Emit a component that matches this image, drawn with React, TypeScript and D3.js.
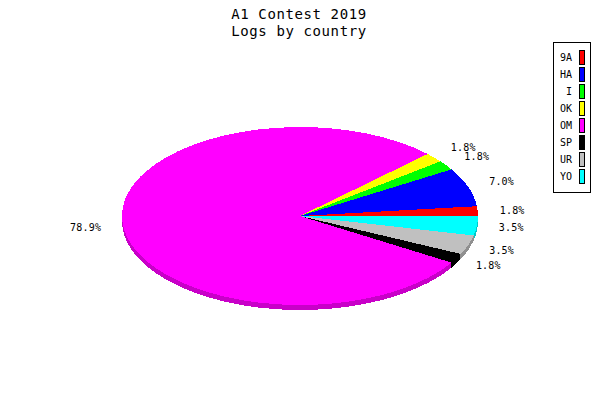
import React from "react";
import * as d3 from "d3";

const categories = ["9A", "HA", "I", "OK", "OM", "SP", "UR", "YO"];
const logs = [1, 4, 1, 1, 45, 1, 2, 2];
const colors = ["#ff0000", "#0000ff", "#00ff00", "#ffff00", "#ff00ff", "#000000", "#c0c0c0", "#00ffff"];
const sideColors = ["#c80000", "#0000c8", "#00c800", "#c8c800", "#c800c8", "#000000", "#909090", "#00c8c8"];
const titleLines = ["A1 Contest 2019", "Logs by country"];

const W = 600, H = 400;
const cx = 300, cy = 216, rx = 178, ry = 89, depth = 5;
const labelRx = 200, labelRy = 105;
const mono = "'DejaVu Sans Mono', 'Liberation Mono', monospace";

export default function App() {
  const total = d3.sum(logs);
  const data = categories.map((c, i) => ({ name: c, value: logs[i], color: colors[i], side: sideColors[i] }));
  // counterclockwise from east (d3 angle PI/2 going negative)
  const pie = d3.pie<any>().sort(null).value((d: any) => d.value).startAngle(Math.PI / 2).endAngle(Math.PI / 2 - 2 * Math.PI);
  const arcs = pie(data);
  const arc = d3.arc<any>().innerRadius(0).outerRadius(1);

  const layers = d3.range(depth, 0, -1);

  return (
    <svg width={W} height={H} style={{ position: "absolute", left: 0, top: 0, background: "#fff" }}>
      <rect x={0} y={0} width={W} height={H} fill="#fff" />
      {titleLines.map((t, i) => (
        <text key={t} x={299} y={18.5 + i * 17} textAnchor="middle" fontFamily={mono} fontSize={14} letterSpacing={0.6} fill="#000">
          {t}
        </text>
      ))}
      <g shapeRendering="crispEdges">
        {layers.map((d) =>
          arcs.map((a, i) => (
            <path
              key={`s${d}-${i}`}
              d={arc(a) as string}
              fill={a.data.side}
              transform={`translate(${cx},${cy + d}) scale(${rx},${ry})`}
            />
          ))
        )}
        {arcs.map((a, i) => (
          <path key={`t${i}`} d={arc(a) as string} fill={a.data.color} transform={`translate(${cx},${cy}) scale(${rx},${ry})`} />
        ))}
      </g>
      {arcs.map((a, i) => {
        const mid = (a.startAngle + a.endAngle) / 2; // d3 angle, 0 = north, clockwise
        const s = Math.sin(mid), c = -Math.cos(mid);
        const x = cx + labelRx * s;
        const y = cy + labelRy * c;
        return (
          <text
            key={`l${i}`}
            x={x}
            y={y}
            dy="0.35em"
            textAnchor={s >= 0 ? "start" : "end"}
            fontFamily={mono}
            fontSize={10}
            letterSpacing={0.2}
            fill="#000"
          >
            {((a.data.value / total) * 100).toFixed(1) + "%"}
          </text>
        );
      })}
      <g>
        <rect x={553.5} y={42.5} width={37} height={150} fill="#fff" stroke="#000" shapeRendering="crispEdges" />
        {data.map((d, i) => (
          <g key={`lg${i}`}>
            <text x={572} y={57.5 + i * 17} dy="0.35em" textAnchor="end" fontFamily={mono} fontSize={10} fill="#000">
              {d.name}
            </text>
            <rect x={579.5} y={50.5 + i * 17} width={5} height={14} fill={d.color} stroke="#000" shapeRendering="crispEdges" />
          </g>
        ))}
      </g>
    </svg>
  );
}
